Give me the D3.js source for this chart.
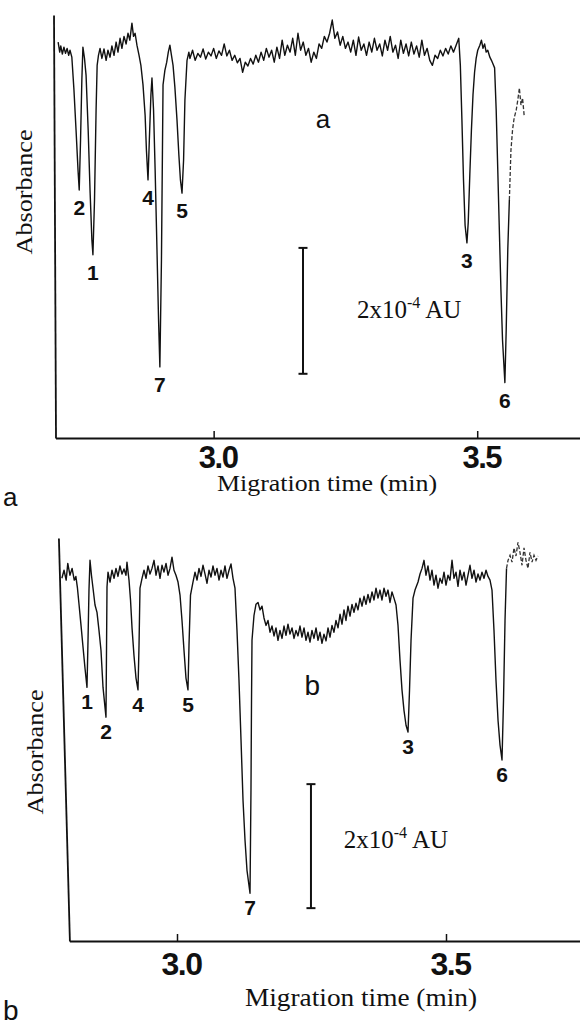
<!DOCTYPE html>
<html><head><meta charset="utf-8">
<script src="https://cdn.jsdelivr.net/npm/d3@7"></script>
<style>body{margin:0;background:#fff}svg{display:block}</style>
</head><body>
<svg id="c" width="580" height="1028"></svg>
<script>
// ---------- DATA (time in min, absorbance in 1e-4 AU relative to baseline) ----------
const traceA = [[2.705,0.16],[2.708,0.00],[2.710,0.10],[2.713,-0.03],[2.716,0.08],[2.719,-0.02],[2.722,0.06],[2.725,-0.05],[2.7275,0.03],[2.731,-0.08],[2.735,-0.60],[2.739,-1.24],[2.7427,-1.87],[2.745,-2.19],[2.7475,-1.40],[2.750,-0.44],[2.752,0.08],[2.755,-0.10],[2.758,-0.37],[2.762,-1.24],[2.7655,-2.19],[2.769,-2.98],[2.771,-3.22],[2.774,-2.35],[2.777,-0.92],[2.779,-0.21],[2.7815,-0.05],[2.7845,0.06],[2.788,-0.10],[2.792,0.05],[2.796,-0.13],[2.7995,0.03],[2.8035,-0.08],[2.807,0.10],[2.811,-0.05],[2.815,0.16],[2.8185,0.00],[2.8225,0.22],[2.826,0.06],[2.830,0.25],[2.834,0.13],[2.8375,0.30],[2.841,0.19],[2.845,0.46],[2.848,0.25],[2.851,0.30],[2.8545,0.11],[2.8585,-0.05],[2.862,-0.21],[2.866,-0.52],[2.870,-1.00],[2.8725,-1.56],[2.8755,-2.03],[2.878,-1.40],[2.881,-0.68],[2.883,-0.41],[2.886,-0.92],[2.889,-1.87],[2.8925,-3.14],[2.8955,-4.25],[2.898,-5.00],[2.901,-3.30],[2.904,-0.52],[2.9075,-0.29],[2.911,-0.16],[2.914,0.00],[2.917,0.11],[2.920,-0.05],[2.923,-0.21],[2.9265,-0.56],[2.9305,-1.08],[2.934,-1.63],[2.937,-2.03],[2.940,-2.24],[2.943,-1.71],[2.9455,-0.76],[2.9495,-0.13],[2.953,0.00],
[2.955,-0.10],[2.960,0.03],[2.965,-0.13],[2.970,-0.02],[2.975,-0.08],[2.980,0.05],[2.985,-0.11],[2.990,0.00],[2.995,-0.06],[3.000,0.06],[3.005,-0.10],[3.010,0.02],[3.015,-0.05],[3.020,0.13],[3.025,-0.06],[3.030,0.03],[3.035,-0.13],[3.040,-0.05],[3.045,-0.17],[3.050,-0.10],[3.055,-0.32],[3.060,-0.16],[3.065,-0.22],[3.070,-0.10],[3.075,-0.19],[3.080,-0.05],[3.085,-0.16],[3.090,0.00],[3.095,-0.13],[3.100,0.06],[3.105,-0.08],[3.110,0.03],[3.115,-0.16],[3.120,0.08],[3.125,-0.10],[3.130,0.19],[3.135,-0.05],[3.140,0.11],[3.145,0.00],[3.150,0.22],[3.155,-0.05],[3.160,0.30],[3.165,0.03],[3.170,0.16],[3.175,-0.05],[3.180,0.06],[3.185,-0.16],[3.190,0.00],[3.195,-0.10],[3.200,0.13],[3.205,0.06],[3.210,0.25],[3.215,0.16],[3.220,0.30],[3.225,0.51],[3.230,0.22],[3.235,0.32],[3.240,0.11],[3.245,0.25],[3.250,0.06],[3.255,0.16],[3.260,0.00],[3.265,0.19],[3.270,-0.05],[3.275,0.24],[3.280,0.03],[3.285,0.13],[3.290,-0.05],[3.295,0.16],[3.300,0.00],[3.305,0.22],[3.310,0.03],[3.315,0.13],[3.320,-0.06],[3.325,0.19],[3.330,0.03],[3.335,0.25],[3.340,0.00],[3.345,0.11],[3.350,-0.10],[3.355,0.19],[3.360,-0.02],[3.365,0.13],[3.370,-0.06],[3.375,0.16],[3.380,-0.03],[3.385,0.10],[3.390,-0.08],[3.395,0.19],[3.400,-0.05],[3.405,0.06],[3.410,-0.13],[3.415,-0.21],[3.420,-0.05],[3.425,-0.10],[3.430,0.03],[3.435,-0.06],[3.440,0.06],[3.445,-0.03],[3.450,0.10],[3.455,0.00],[3.460,0.11],[3.465,0.22],
[3.468,-0.21],[3.471,-1.08],[3.474,-2.03],[3.477,-2.75],[3.4805,-3.03],[3.483,-2.70],[3.486,-1.94],[3.489,-1.24],[3.492,-0.68],[3.495,-0.32],[3.498,-0.10],[3.501,0.03],[3.505,0.11],[3.508,0.19],[3.511,0.06],[3.514,0.13],[3.517,0.00],[3.520,0.03],[3.524,-0.08],[3.527,-0.13],[3.530,-0.19],[3.533,-0.25],[3.536,-0.92],[3.539,-1.87],[3.542,-2.83],[3.545,-3.78],[3.548,-4.57],[3.5525,-5.25],[3.555,-4.41],[3.558,-3.14],[3.561,-2.35],[3.564,-1.56],[3.567,-1.24],[3.570,-1.05],[3.574,-0.92],[3.577,-0.76],[3.580,-0.57],[3.583,-0.84],[3.586,-0.73],[3.589,-1.00]];

const traceB = [[2.786,-0.05],[2.790,0.08],[2.794,-0.08],[2.797,0.19],[2.801,0.00],[2.805,0.11],[2.809,-0.08],[2.812,-0.02],[2.815,-0.21],[2.818,-0.48],[2.8216,-0.81],[2.825,-1.13],[2.829,-1.50],[2.8327,-1.81],[2.8346,-1.05],[2.8364,-0.24],[2.8383,0.24],[2.841,0.00],[2.8439,-0.21],[2.8476,-0.48],[2.8513,-0.60],[2.855,-0.89],[2.8587,-1.21],[2.8625,-1.81],[2.868,-2.29],[2.8699,-0.19],[2.8718,0.05],[2.8755,-0.11],[2.8792,0.08],[2.883,-0.05],[2.8866,0.11],[2.8903,-0.02],[2.894,0.15],[2.8978,0.02],[2.9015,0.10],[2.9052,0.00],[2.907,0.21],[2.9108,-0.08],[2.9136,-0.40],[2.9164,-0.85],[2.920,-1.29],[2.9238,-1.66],[2.9275,-1.85],[2.9294,-1.13],[2.9312,-0.21],[2.935,-0.05],[2.9387,0.08],[2.9424,-0.05],[2.9461,0.15],[2.9498,0.02],[2.9535,0.11],[2.9573,0.24],[2.961,0.00],[2.9647,0.15],[2.9684,-0.05],[2.9721,0.16],[2.9758,0.05],[2.9796,0.19],[2.9833,0.00],[2.987,0.11],[2.9907,0.29],[2.9944,0.08],[2.9981,0.00],[3.0019,-0.11],[3.0056,-0.32],[3.0093,-0.73],[3.013,-1.21],[3.0167,-1.66],[3.0204,-1.85],[3.0223,-1.13],[3.0251,-0.32],[3.0297,-0.11],[3.0335,0.05],[3.0372,-0.08],[3.0409,0.11],[3.0446,-0.02],[3.0483,0.16],[3.052,0.02],[3.0558,-0.13],[3.0595,0.08],[3.0632,-0.03],[3.0669,0.15],[3.0706,0.00],[3.0743,0.11],[3.0781,-0.08],[3.0818,0.08],[3.0855,-0.03],[3.0892,0.15],[3.0929,-0.05],[3.0967,0.08],[3.1004,0.18],[3.1041,-0.05],[3.1078,-0.21],[3.1115,-0.89],[3.1152,-1.69],[3.119,-2.66],[3.1227,-3.63],[3.1264,-4.27],[3.1301,-4.76],[3.1357,-5.13],[3.1375,-3.47],[3.1385,-2.02],[3.1394,-1.05],[3.1431,-0.65],[3.1468,-0.47],[3.1506,-0.44],[3.1543,-0.56],[3.158,-0.50],[3.1617,-0.69],[3.1654,-0.81],[3.1691,-0.73],[3.1729,-0.92],[3.1766,-0.82],[3.1803,-0.98],[3.184,-0.85],[3.1877,-1.05],[3.1914,-0.89],[3.1952,-1.02],[3.1989,-0.82],[3.2026,-0.97],[3.2063,-0.79],[3.21,-0.95],[3.2138,-0.85],[3.2175,-1.02],[3.2212,-0.89],[3.2249,-0.98],[3.2286,-0.82],[3.2323,-1.00],[3.2361,-0.85],[3.2398,-1.05],[3.2435,-0.92],[3.2472,-1.08],[3.2509,-0.89],[3.2546,-1.02],[3.2584,-0.85],[3.2621,-1.05],[3.2658,-0.92],[3.2695,-1.10],[3.2732,-0.95],[3.277,-1.06],[3.2807,-0.85],[3.2844,-1.00],[3.2881,-0.81],[3.2918,-0.92],[3.2955,-0.73],[3.2993,-0.85],[3.303,-0.63],[3.3067,-0.79],[3.3104,-0.56],[3.3141,-0.73],[3.3178,-0.50],[3.3216,-0.66],[3.3253,-0.47],[3.329,-0.60],[3.3327,-0.45],[3.3364,-0.56],[3.3401,-0.37],[3.3439,-0.50],[3.3476,-0.34],[3.3513,-0.47],[3.355,-0.31],[3.3587,-0.44],[3.3625,-0.27],[3.3662,-0.40],[3.3699,-0.21],[3.3736,-0.37],[3.3773,-0.24],[3.381,-0.40],[3.3848,-0.21],[3.3885,-0.34],[3.3922,-0.24],[3.3959,-0.44],[3.3996,-0.27],[3.4033,-0.37],[3.4071,-0.48],[3.4108,-0.81],[3.4145,-1.37],[3.4182,-1.85],[3.4219,-2.18],[3.4257,-2.42],[3.4294,-2.53],[3.4322,-1.85],[3.435,-1.05],[3.4387,-0.37],[3.4424,-0.24],[3.448,-0.11],[3.4517,0.02],[3.4554,0.11],[3.4591,0.24],[3.4628,0.00],[3.4665,0.15],[3.4703,-0.08],[3.474,0.08],[3.4777,-0.16],[3.4814,0.00],[3.4851,-0.21],[3.4888,-0.05],[3.4926,-0.13],[3.4963,0.05],[3.50,-0.16],[3.5037,0.00],[3.5074,-0.08],[3.5112,0.24],[3.5149,-0.05],[3.5186,0.05],[3.5223,-0.18],[3.526,0.08],[3.5297,-0.08],[3.5335,0.05],[3.5372,-0.16],[3.5409,0.00],[3.5446,0.16],[3.5483,-0.05],[3.5521,0.08],[3.5558,-0.11],[3.5595,0.02],[3.5632,-0.08],[3.5669,0.05],[3.5706,-0.05],[3.5744,0.08],[3.5781,-0.02],[3.5818,-0.08],[3.5855,-0.24],[3.5892,-0.89],[3.5929,-1.69],[3.5967,-2.34],[3.6004,-2.74],[3.6041,-2.98],[3.6069,-2.02],[3.6097,-0.73],[3.6125,0.11],[3.6153,0.24],[3.619,0.32],[3.6227,0.21],[3.6264,0.44],[3.6301,0.31],[3.6338,0.53],[3.6375,0.37],[3.6413,0.16],[3.645,0.44],[3.6487,0.24],[3.6524,0.11],[3.6561,0.37],[3.6599,0.21],[3.6636,0.32],[3.6673,0.24],[3.671,0.31]];

const peakIdsA   = ["2","1","4","7","5","3","6"];
const peakTimesA = [2.745, 2.771, 2.8755, 2.898, 2.940, 3.4805, 3.5525];
const peakAbsA   = [-2.19, -3.22, -2.03, -5.00, -2.24, -3.03, -5.25];

const peakIdsB   = ["1","2","4","5","7","3","6"];
const peakTimesB = [2.8327, 2.868, 2.9275, 3.0204, 3.1357, 3.4294, 3.6041];
const peakAbsB   = [-1.81, -2.29, -1.85, -1.85, -5.13, -2.53, -2.98];

const tickValues = [3.0, 3.5];
const tickLabels = ["3.0", "3.5"];
const scaleBarAU = 2;          // 2x10^-4 AU
const xTitle = "Migration time (min)";
const yTitle = "Absorbance";

// ---------- LAYOUT ----------
const svg = d3.select("#c");
const SERIF = "'Liberation Serif','Times New Roman',serif";
const SANS = "'Liberation Sans',Arial,Helvetica,sans-serif";

const panels = [
  { trace: traceA, ids: peakIdsA, times: peakTimesA, abs: peakAbsA,
    xDom: [2.70, 3.695], xRange: [55.5, 580], yDom: [-6.13, 0.59], yRange: [438, 15],
    skew: 0.0047, tailFrom: 3.561, lblFont: 21, lblOff: 25,
    tickFont: 31, tickY: 30, xTitleX: 327, xTitleY: 491, xTitleSize: 23, xTitleLen: 220,
    yTitleX: 32, yTitleY: 192,
    bar: { t: 3.1695, v0: -3.11 }, barText: { t: 3.272, v: -4.22 }, inner: { t: 3.2075, v: -1.21, s: "a", size: 26 },
    outer: { x: 3, y: 506, s: "a", size: 26 } },
  { trace: traceB, ids: peakIdsB, times: peakTimesB, abs: peakAbsB,
    xDom: [2.80, 3.75], xRange: [69.4, 580.5], yDom: [-5.90, 0.60], yRange: [941, 538],
    skew: 0.0273, tailFrom: 3.6125, lblFont: 21, lblOff: 22,
    tickFont: 32, tickY: 34, xTitleX: 361, xTitleY: 1006, xTitleSize: 25, xTitleLen: 232,
    yTitleX: 43, yTitleY: 752,
    bar: { t: 3.249, v0: -3.37 }, barText: { t: 3.310, v: -4.40 }, inner: { t: 3.2515, v: -1.94, s: "b", size: 28 },
    outer: { x: 3, y: 1020, s: "b", size: 28 } }
];

panels.forEach(p => {
  const x = d3.scaleLinear().domain(p.xDom).range(p.xRange);
  const y = d3.scaleLinear().domain(p.yDom).range(p.yRange);
  const g = svg.append("g");
  const y0 = p.yRange[0], x0 = p.xRange[0];

  // x axis
  const xa = g.append("g").attr("transform", `translate(0,${y0})`)
    .call(d3.axisBottom(x).tickValues(tickValues).tickFormat((d,i) => tickLabels[i])
      .tickSizeInner(-7).tickSizeOuter(0));
  xa.select(".domain").attr("stroke", "#111").attr("stroke-width", 1.8);
  xa.selectAll(".tick line").attr("stroke", "#111").attr("stroke-width", 1.5);
  xa.selectAll(".tick text").attr("y", p.tickY).attr("dy", 0).attr("dx", 4)
    .attr("font-family", SANS).attr("font-weight", "bold").attr("font-size", p.tickFont)
    .attr("letter-spacing", -1.5).attr("fill", "#111");

  // y axis (slightly slanted as in the scan)
  const ya = g.append("g")
    .attr("transform", `translate(${x0},${y0}) skewX(${Math.atan(p.skew) * 180 / Math.PI}) translate(0,${-y0})`)
    .call(d3.axisLeft(y).tickValues([]).tickSizeOuter(0));
  ya.select(".domain").attr("stroke", "#111").attr("stroke-width", 1.8);

  // trace
  const line = d3.line().x(d => x(d[0])).y(d => y(d[1]));
  g.append("path").datum(p.trace.filter(d => d[0] <= p.tailFrom))
    .attr("d", line).attr("fill", "none").attr("stroke", "#111")
    .attr("stroke-width", 1.4).attr("stroke-linejoin", "round");
  g.append("path").datum(p.trace.filter(d => d[0] >= p.tailFrom))
    .attr("d", line).attr("fill", "none").attr("stroke", "#333")
    .attr("stroke-width", 1.3).attr("stroke-dasharray", "4,2");

  // peak labels
  g.selectAll(".pl").data(p.ids).enter().append("text")
    .attr("x", (d,i) => x(p.times[i])).attr("y", (d,i) => y(p.abs[i]) + p.lblOff)
    .attr("text-anchor", "middle").attr("font-family", SANS).attr("font-weight", "bold")
    .attr("font-size", p.lblFont).attr("fill", "#111").text(d => d);

  // scale bar
  const bx = x(p.bar.t), by1 = y(p.bar.v0), by2 = y(p.bar.v0 - scaleBarAU);
  g.append("line").attr("x1", bx).attr("x2", bx).attr("y1", by1).attr("y2", by2)
    .attr("stroke", "#111").attr("stroke-width", 2);
  [by1, by2].forEach(yy => g.append("line").attr("x1", bx - 4.5).attr("x2", bx + 4.5)
    .attr("y1", yy).attr("y2", yy).attr("stroke", "#111").attr("stroke-width", 2));
  const bt = g.append("text").attr("x", x(p.barText.t)).attr("y", y(p.barText.v))
    .attr("font-family", SERIF).attr("font-size", 25).attr("fill", "#111");
  bt.append("tspan").text("2x10");
  bt.append("tspan").attr("dy", -10).attr("font-size", 16).text("-4");
  bt.append("tspan").attr("dy", 10).text(" AU");

  // inner panel letter
  g.append("text").attr("x", x(p.inner.t)).attr("y", y(p.inner.v)).attr("text-anchor", "middle")
    .attr("font-family", SANS).attr("font-size", p.inner.size).attr("fill", "#111").text(p.inner.s);

  // axis titles
  g.append("text").attr("x", p.xTitleX).attr("y", p.xTitleY).attr("text-anchor", "middle")
    .attr("font-family", SERIF).attr("font-size", p.xTitleSize)
    .attr("textLength", p.xTitleLen).attr("lengthAdjust", "spacingAndGlyphs")
    .attr("fill", "#111").text(xTitle);
  g.append("text").attr("transform", `translate(${p.yTitleX},${p.yTitleY}) rotate(-90)`)
    .attr("text-anchor", "middle").attr("font-family", SERIF).attr("font-size", 24)
    .attr("textLength", 125).attr("lengthAdjust", "spacingAndGlyphs")
    .attr("fill", "#111").text(yTitle);

  // outer figure letter
  g.append("text").attr("x", p.outer.x).attr("y", p.outer.y)
    .attr("font-family", SANS).attr("font-size", p.outer.size).attr("fill", "#111").text(p.outer.s);
});
</script>
</body></html>
